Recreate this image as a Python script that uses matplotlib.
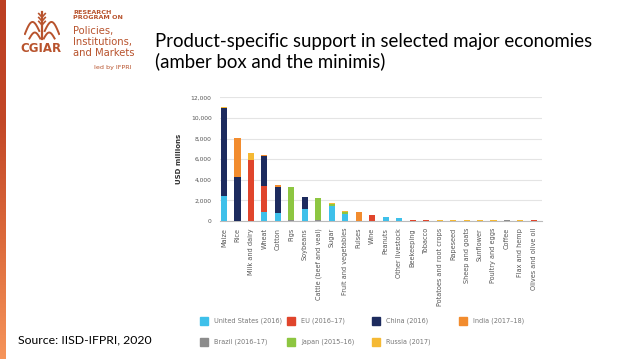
import matplotlib
matplotlib.use("Agg")
import matplotlib.pyplot as plt
import numpy as np
from matplotlib.patches import Rectangle
from matplotlib.colors import LinearSegmentedColormap

categories = ["Maize", "Rice", "Milk and dairy", "Wheat", "Cotton", "Pigs", "Soybeans",
              "Cattle (beef and veal)", "Sugar", "Fruit and vegetables", "Pulses", "Wine",
              "Peanuts", "Other livestock", "Beekeeping", "Tobacco", "Potatoes and root crops",
              "Rapeseed", "Sheep and goats", "Sunflower", "Poultry and eggs", "Coffee",
              "Flax and hemp", "Olives and olive oil"]

us     = [2400, 0, 0, 900, 800, 0, 1200, 0, 1500, 650, 0, 0, 350, 300, 0, 0, 0, 0, 0, 0, 0, 0, 0, 0]
eu     = [0, 0, 5900, 2450, 0, 0, 0, 0, 0, 0, 0, 580, 0, 0, 70, 70, 0, 0, 0, 0, 0, 0, 0, 80]
china  = [8600, 4250, 0, 2950, 2500, 0, 1100, 0, 0, 0, 0, 0, 0, 0, 0, 0, 0, 0, 0, 0, 0, 0, 0, 0]
india  = [0, 3850, 0, 100, 150, 0, 0, 0, 0, 0, 850, 0, 0, 0, 0, 0, 0, 0, 0, 0, 0, 0, 0, 0]
brazil = [0, 0, 0, 0, 0, 100, 0, 100, 0, 0, 50, 0, 0, 0, 0, 0, 0, 0, 0, 0, 0, 60, 0, 0]
japan  = [0, 0, 0, 0, 0, 3200, 0, 2100, 150, 250, 0, 0, 0, 0, 0, 0, 0, 0, 0, 0, 0, 0, 0, 0]
russia = [100, 0, 700, 50, 0, 0, 50, 0, 50, 80, 0, 0, 80, 0, 0, 0, 70, 60, 60, 60, 60, 0, 60, 0]

series_names = ["United States (2016)", "EU (2016\u201317)", "China (2016)", "India (2017\u201318)",
                "Brazil (2016\u201317)", "Japan (2015\u201316)", "Russia (2017)"]
series_values = [us, eu, china, india, brazil, japan, russia]
series_colors = ["#3EC0EA", "#E0452C", "#1D2B5E", "#F28C2E", "#8C8C8C", "#8DC641", "#F5B934"]

yticks = [0, 2000, 4000, 6000, 8000, 10000, 12000]

W, H = 638, 359
fig = plt.figure(figsize=(W / 100, H / 100), dpi=100)
fig.patch.set_facecolor("white")

# left gradient strip
grad_ax = fig.add_axes([0, 0, 6 / W, 1])
grad = np.linspace(0, 1, 256).reshape(-1, 1)
cmap = LinearSegmentedColormap.from_list("g", ["#BC3F22", "#C24727", "#DC6A3B", "#F6945A"])
grad_ax.imshow(grad, aspect="auto", cmap=cmap, extent=[0, 1, 0, 1], origin="upper")
grad_ax.axis("off")

# logo
logo_c = "#B8532D"
fig.text(41 / W, 1 - 52 / H, "CGIAR", fontsize=8.5, fontweight="bold", color=logo_c,
         ha="center", va="baseline", family="DejaVu Sans")
lax = fig.add_axes([24 / W, 1 - 46 / H, 36 / W, 36 / H])
lax.set_xlim(-1, 1); lax.set_ylim(0, 1.2); lax.axis("off")
lax.plot([0, 0], [0.25, 1.15], color=logo_c, lw=1.6)
t = np.linspace(0, 1, 30)
for s in (-1, 1):
    lax.plot(s * (0.15 + 0.8 * t), 0.5 + 0.35 * np.sin(t * np.pi) - 0.1 * t, color=logo_c, lw=1.4)
    lax.plot(s * (0.1 + 0.6 * t), 0.25 + 0.2 * np.sin(t * np.pi), color=logo_c, lw=1.4)
    for k in range(3):
        lax.plot([0, s * 0.18], [0.7 + 0.13 * k, 0.82 + 0.13 * k], color=logo_c, lw=1.2)
fig.text(73 / W, 1 - 15 / H, "RESEARCH\nPROGRAM ON", fontsize=4.6, fontweight="bold", color=logo_c,
         ha="left", va="center", linespacing=1.1, family="DejaVu Sans")
fig.text(73 / W, 1 - 42 / H, "Policies,\nInstitutions,\nand Markets", fontsize=7.2, color=logo_c,
         ha="left", va="center", linespacing=1.1, family="DejaVu Sans")
fig.text(131 / W, 1 - 68 / H, "led by IFPRI", fontsize=4.6, color=logo_c, ha="right", va="center",
         family="DejaVu Sans")

# title (two lines)
fig.text(155 / W, 1 - 47 / H, "Product-specific support in selected major economies",
         fontsize=13.4, color="black", ha="left", va="baseline", family="Lato")
fig.text(155 / W, 1 - 67 / H, "(amber box and the minimis)",
         fontsize=13.4, color="black", ha="left", va="baseline", family="Lato")

# source
fig.text(18 / W, 1 - 340 / H, "Source: IISD-IFPRI, 2020", fontsize=8.8, color="black",
         ha="left", va="center", family="Lato")

# chart
ax = fig.add_axes([220 / W, 1 - 221 / H, (542 - 220) / W, (221 - 97.3) / H])
x = np.arange(len(categories))
bottom = np.zeros(len(categories))
for name, vals, col in zip(series_names, series_values, series_colors):
    v = np.array(vals, dtype=float)
    ax.bar(x, v, bottom=bottom, width=0.45, color=col, label=name, zorder=3)
    bottom += v

ax.set_ylim(0, 12000)
ax.set_xlim(-0.3, len(categories) - 0.4)
ax.set_yticks(yticks)
ax.set_yticklabels([f"{v:,}" for v in yticks], fontsize=4.3, color="#555555")
ax.set_xticks(x)
ax.set_xticklabels(categories, rotation=90, fontsize=4.7, color="#555555")
ax.tick_params(axis="x", length=0, pad=5)
ax.tick_params(axis="y", length=0, pad=6)
ax.grid(axis="y", color="#E4E4E4", lw=0.8, zorder=0)
for sp in ("top", "right", "left"):
    ax.spines[sp].set_visible(False)
ax.spines["bottom"].set_color("#BBBBBB")
ax.spines["bottom"].set_linewidth(0.8)
ax.set_ylabel("USD millions", fontsize=5, fontweight="bold", color="#333333", labelpad=6)

# legend (manual, row-wise)
col_x = [204, 291, 376, 463]
row_y = [321, 342]
for i, (name, col) in enumerate(zip(series_names, series_colors)):
    r, c = divmod(i, 4)
    px, py = col_x[c], row_y[r]
    fig.add_artist(Rectangle(((px - 4) / W, 1 - (py + 4) / H), 8 / W, 8 / H,
                             transform=fig.transFigure, color=col))
    fig.text((px + 10) / W, 1 - py / H, name, fontsize=4.7, color="#777777", ha="left", va="center")

fig.savefig("out.png", dpi=100, facecolor="white")
